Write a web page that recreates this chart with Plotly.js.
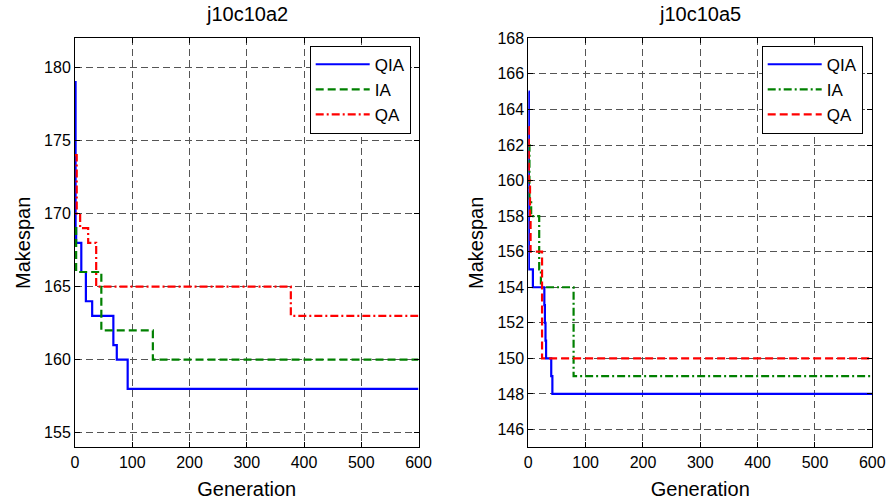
<!DOCTYPE html>
<html>
<head>
<meta charset="utf-8">
<script src="https://cdn.plot.ly/plotly-3.0.1.min.js"></script>
<style>html,body{margin:0;padding:0;background:#fff;}#chart{width:889px;height:504px;}</style>
</head>
<body>
<div id="chart"></div>
<script>
// ---- Data: j10c10a2 (left) ----
const a2_qia_gen = [0, 1, 2, 11, 19, 30, 67, 73, 92, 600];
const a2_qia_val = [179, 169, 168, 166, 164, 163, 161, 160, 158, 158];
const a2_ia_gen  = [0, 2, 46, 136, 600];
const a2_ia_val  = [169, 166, 162, 160, 160];
const a2_qa_gen  = [0, 3, 9, 23, 37, 377, 600];
const a2_qa_val  = [174, 170, 169, 168, 165, 163, 163];

// ---- Data: j10c10a5 (right) ----
const a5_qia_gen = [0, 1, 8, 28, 29, 30, 31, 40, 42, 600];
const a5_qia_val = [165, 155, 154, 153, 152, 151, 150, 149, 148, 148];
const a5_ia_gen  = [0, 2, 5, 19, 22, 79, 600];
const a5_ia_val  = [162, 159, 158, 155, 154, 149, 149];
const a5_qa_gen  = [0, 1, 3, 4, 24, 600];
const a5_qa_val  = [163, 160, 158, 156, 150, 150];

const seriesNames = ['QIA', 'IA', 'QA'];
const xTicks = [0, 100, 200, 300, 400, 500, 600];
const yTicksLeft = [155, 160, 165, 170, 175, 180];
const yTicksRight = [146, 148, 150, 152, 154, 156, 158, 160, 162, 164, 166, 168];
const titles = ['j10c10a2', 'j10c10a5'];

const BLUE = '#0000ff', GREEN = '#008000', RED = '#ff0000';
const FONT = 'Arial, "Liberation Sans", sans-serif';
const DASH = '8px,4px';
const DASHDOT = '8px,3px,2px,3px';

function tr(x, y, name, color, dash, xa, ya, leg) {
  return {x: x, y: y, name: name, type: 'scatter', mode: 'lines',
    line: {color: color, width: 2.2, dash: dash, shape: 'hv'},
    xaxis: xa, yaxis: ya, legend: leg};
}

const data = [
  tr(a2_qia_gen, a2_qia_val, seriesNames[0], BLUE, 'solid', 'x', 'y', 'legend'),
  tr(a2_ia_gen, a2_ia_val, seriesNames[1], GREEN, DASH, 'x', 'y', 'legend'),
  tr(a2_qa_gen, a2_qa_val, seriesNames[2], RED, DASHDOT, 'x', 'y', 'legend'),
  tr(a5_qia_gen, a5_qia_val, seriesNames[0], BLUE, 'solid', 'x2', 'y2', 'legend2'),
  tr(a5_ia_gen, a5_ia_val, seriesNames[1], GREEN, DASHDOT, 'x2', 'y2', 'legend2'),
  tr(a5_qa_gen, a5_qa_val, seriesNames[2], RED, DASH, 'x2', 'y2', 'legend2')
];

function xax(domain, anchor) {
  return {domain: domain, anchor: anchor, range: [0, 600], tickvals: xTicks,
    ticks: 'inside', ticklen: 5, tickcolor: '#000', showline: true, linecolor: '#000',
    linewidth: 1, mirror: 'ticks', showgrid: true, gridcolor: '#555', griddash: '7px,4px',
    gridwidth: 1, zeroline: false, tickfont: {family: FONT, size: 16, color: '#000'},
    title: {text: 'Generation', font: {family: FONT, size: 20, color: '#000'}, standoff: 12}};
}
function yax(domain, anchor, range, ticks) {
  return {domain: domain, anchor: anchor, range: range, tickvals: ticks,
    ticks: 'inside', ticklen: 5, tickcolor: '#000', showline: true, linecolor: '#000',
    linewidth: 1, mirror: 'ticks', showgrid: true, gridcolor: '#555', griddash: '7px,4px',
    gridwidth: 1, zeroline: false, tickfont: {family: FONT, size: 16, color: '#000'},
    title: {text: 'Makespan', font: {family: FONT, size: 20, color: '#000'}, standoff: 8}};
}

const yDom = [(504 - 447.3) / 504, (504 - 38.3) / 504];
const legendCommon = {bgcolor: '#fff', bordercolor: '#000', borderwidth: 1,
  font: {family: FONT, size: 17, color: '#000'}, xanchor: 'right', yanchor: 'top',
  itemwidth: 54, tracegroupgap: 0};

const layout = {
  width: 889, height: 504,
  margin: {l: 0, r: 0, t: 0, b: 0},
  paper_bgcolor: '#fff', plot_bgcolor: '#fff',
  font: {family: FONT, color: '#000'},
  xaxis: xax([75 / 889, 418.5 / 889], 'y'),
  yaxis: yax(yDom, 'x', [154, 182], yTicksLeft),
  xaxis2: xax([528.3 / 889, 872.3 / 889], 'y2'),
  yaxis2: yax(yDom, 'x2', [145, 168], yTicksRight),
  legend: Object.assign({x: 410.7 / 889, y: (504 - 45.7) / 504}, legendCommon),
  legend2: Object.assign({x: 862.7 / 889, y: (504 - 45.7) / 504}, legendCommon),
  annotations: [
    {text: titles[0], xref: 'paper', yref: 'paper', x: 246.7 / 889, y: (504 - 14) / 504,
      xanchor: 'center', yanchor: 'middle', showarrow: false, font: {family: FONT, size: 20, color: '#000'}},
    {text: titles[1], xref: 'paper', yref: 'paper', x: 700.3 / 889, y: (504 - 14) / 504,
      xanchor: 'center', yanchor: 'middle', showarrow: false, font: {family: FONT, size: 20, color: '#000'}}
  ],
  showlegend: true
};

Plotly.newPlot('chart', data, layout, {displayModeBar: false, staticPlot: true});
</script>
</body>
</html>
